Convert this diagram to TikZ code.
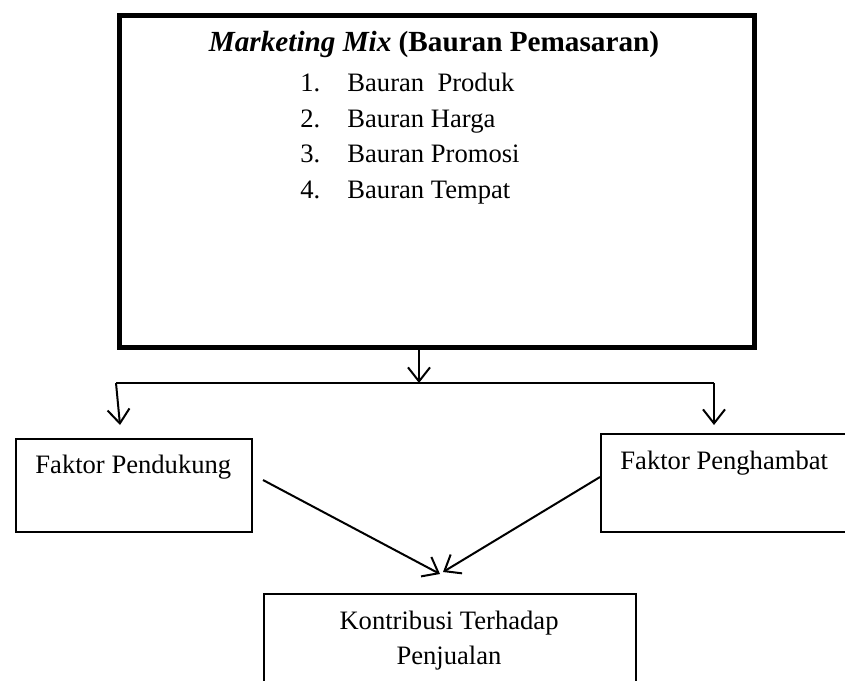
\documentclass[tikz,border=0pt]{standalone}
\usepackage{fontspec}
\setmainfont{Liberation Serif}
\usetikzlibrary{arrows.meta,positioning}
\tikzset{
  mixbox/.style={draw,line width=2.5pt,anchor=north west,inner sep=0pt,
    minimum width=317.5pt,minimum height=166pt},
  factorbox/.style={draw,line width=0.8pt,anchor=north west,inner sep=0pt},
  txt/.style={anchor=base west,inner sep=0pt,font=\fontsize{13.3}{17.8}\selectfont},
  arr/.style={-{Straight Barb[length=7pt,width=11pt]},line width=1pt}
}
\begin{document}
\begin{tikzpicture}[x=0.5pt,y=-0.5pt]
  \useasboundingbox (0,0) rectangle (845,680);
  \clip (0,0) rectangle (845,680);
  % boxes
  \node[mixbox] (mix) at (117,13) {};
  \node[factorbox,minimum width=118pt,minimum height=46.5pt] (pend) at (15,438) {};
  \node[factorbox,minimum width=125pt,minimum height=49pt] (hamb) at (600,433) {};
  \node[factorbox,minimum width=186pt,minimum height=53.5pt] (kon) at (263,593) {};
  % texts
  \node[anchor=base,inner sep=0pt,font=\fontsize{14.6}{18}\selectfont] (title) at (434,51)
    {\textbf{\textit{Marketing Mix}} \textbf{(Bauran Pemasaran)}};
  \node[txt] (num1) at (300,91) {1.};
  \node[txt] (num2) at (300,127) {2.};
  \node[txt] (num3) at (300,162) {3.};
  \node[txt] (num4) at (300,198) {4.};
  \node[txt] (item1) at (347,91) {Bauran\ \ Produk};
  \node[txt] (item2) at (347,127) {Bauran Harga};
  \node[txt] (item3) at (347,162) {Bauran Promosi};
  \node[txt] (item4) at (347,198) {Bauran Tempat};
  \node[txt] (pendtxt) at (35,473) {Faktor Pendukung};
  \node[txt] (hambtxt) at (620,469) {Faktor Penghambat};
  \node[txt,anchor=base] (kontxt1) at (449,629) {Kontribusi Terhadap};
  \node[txt,anchor=base] (kontxt2) at (449,664) {Penjualan};
  % connectors
  \coordinate (split) at (419,383);
  \coordinate (lft) at (116,383);
  \coordinate (rgt) at (714,383);
  \coordinate (lfttip) at (120,425);
  \coordinate (rgttip) at (714,425);
  \coordinate (pendout) at (263,480);
  \coordinate (hambout) at (600,477);
  \coordinate (kontipl) at (440,574);
  \coordinate (kontipr) at (443,572);
  \draw[arr] (split |- mix.south) -- (split);
  \draw[line width=1pt] (lft) -- (rgt);
  \draw[arr] (lft) -- (lfttip);
  \draw[arr] (rgt) -- (rgttip);
  \draw[arr] (pendout) -- (kontipl);
  \draw[arr] (hambout) -- (kontipr);
\end{tikzpicture}
\end{document}
